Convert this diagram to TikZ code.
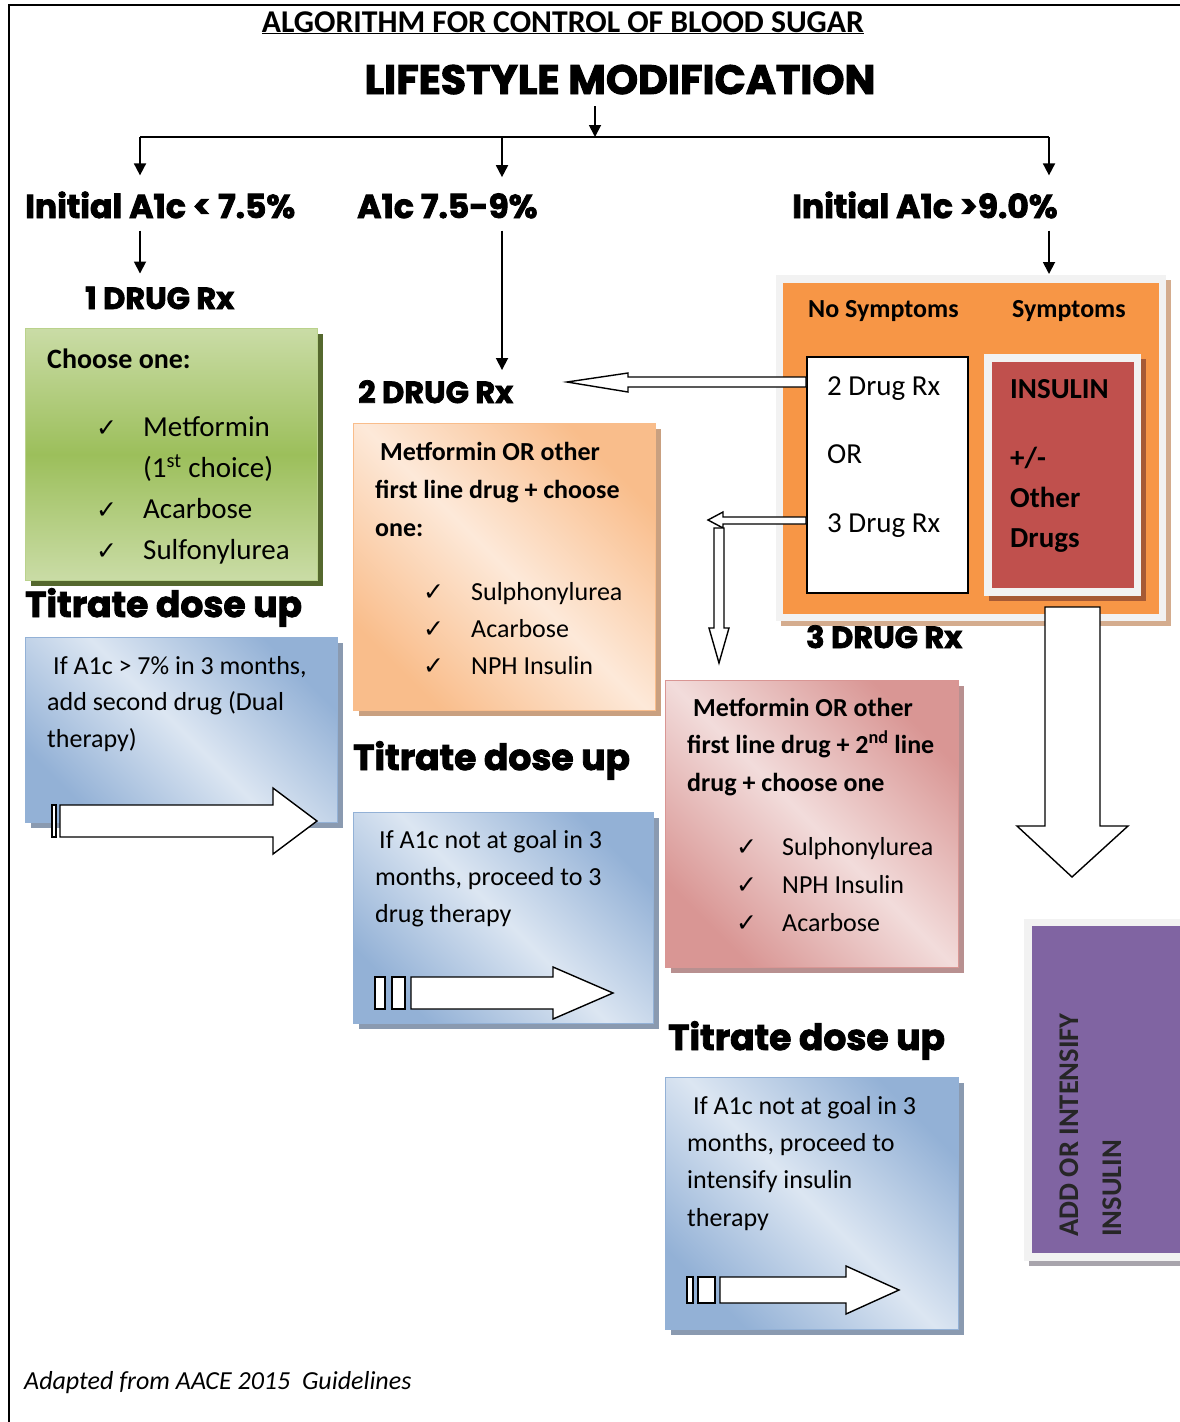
\documentclass[tikz,border=0pt]{standalone}
\usepackage{fontspec}
\setmainfont{Carlito}
\newfontfamily\headfont{Poppins}[BoldFeatures={FakeBold=2.4}]
\newfontfamily\symfont{DejaVu Sans}
\usetikzlibrary{positioning,shadows,arrows.meta}

\definecolor{greenTop}{HTML}{CADCA6}
\definecolor{greenMid}{HTML}{9CBF5B}
\definecolor{greenShadow}{HTML}{55682E}
\definecolor{blueLight}{HTML}{DCE6F2}
\definecolor{blueDark}{HTML}{93B1D6}
\definecolor{blueShadow}{HTML}{8A9AB0}
\definecolor{peachLight}{HTML}{FDE9D9}
\definecolor{peachDark}{HTML}{F9BD8B}
\definecolor{peachShadow}{HTML}{C9A080}
\definecolor{pinkLight}{HTML}{F2DCDB}
\definecolor{pinkDark}{HTML}{D99694}
\definecolor{pinkShadow}{HTML}{B89090}
\definecolor{orangeFill}{HTML}{F79646}
\definecolor{redFill}{HTML}{C0504D}
\definecolor{redShadow}{HTML}{A65A35}
\definecolor{purpleFill}{HTML}{8064A2}
\definecolor{frameGrey}{HTML}{F2F2F2}
\definecolor{tanShadow}{HTML}{D4AC8E}
\definecolor{greyShadow}{HTML}{A8A4AC}

\newcommand\chk{{\symfont\bfseries\fontsize{25}{25}\selectfont ✓}}

\tikzset{
  box/.style={anchor=north west, inner sep=0, line width=1pt},
  boxshadow/.style={drop shadow={shadow xshift=5pt, shadow yshift=-5pt, fill=#1, opacity=1}},
  greenbox/.style={box, boxshadow=greenShadow, draw=greenMid!70!white, top color=greenTop, bottom color=greenTop, middle color=greenMid},
  diagbox/.style={box, boxshadow=#1Shadow, draw=#1Dark, top color=#1Dark, bottom color=#1Dark, middle color=#1Light, shading angle=-45},
  framebox/.style={box, fill=frameGrey, boxshadow=#1},
  txt/.style={anchor=base west, inner sep=0, font=\fontsize{26}{28}\selectfont},
  bigtxt/.style={txt, font=\fontsize{29}{32}\selectfont},
  boldtxt/.style={txt, font=\bfseries\fontsize{26}{28}\selectfont},
  heading/.style={anchor=base west, inner sep=0, font=\headfont\bfseries\fontsize{36}{40}\selectfont},
  lowtxt/.style={heading, font=\headfont\bfseries\fontsize{33}{36}\selectfont},
  drugrx/.style={heading, font=\headfont\bfseries\fontsize{30.5}{32}\selectfont},
  arr/.style={-{Triangle[length=12pt,width=12pt]}, line width=1.8pt},
  hollow/.style={draw=black, fill=white, line width=1.4pt, line join=miter},
}

\begin{document}
\begin{tikzpicture}[x=1pt, y=-1pt]
\useasboundingbox (0,0) rectangle (1180,1422);
\fill[white] (0,0) rectangle (1180,1422);
\draw[line width=2pt] (9,1422) -- (9,5) -- (1180,5);

% top of the chart
\node[anchor=base, inner sep=0, font=\bfseries\fontsize{31.7}{33}\selectfont] (title) at (563,32) {\underline{ALGORITHM FOR CONTROL OF BLOOD SUGAR}};
\node[heading, anchor=base, font=\headfont\bfseries\fontsize{41}{44}\selectfont] (life) at (620,94) {LIFESTYLE MODIFICATION};

\coordinate (split) at (595,137);
\coordinate (brA) at (140,137);
\coordinate (brB) at (502,137);
\coordinate (brC) at (1049,137);
\draw[line width=1.8pt] (brA) -- (brC);
\draw[arr, shorten <=12pt] (life.south -| split) -- (split);

\node[lowtxt] (lowA) at (25,218) {Initial A1c < 7.5\%};
\node[lowtxt] (lowB) at (357,218) {A1c 7.5-9\%};
\node[lowtxt] (lowC) at (792,218) {Initial A1c >9.0\%};
\draw[arr] (brA) -- ([yshift=16pt]brA |- lowA.north);
\draw[arr] (brB) -- ([yshift=16pt]brB |- lowB.north);
\draw[arr] (brC) -- ([yshift=16pt]brC |- lowC.north);

% 1 drug column
\node[drugrx] (one) at (85,309) {1 DRUG Rx};
\draw[arr, shorten <=12pt, shorten >=13pt] (lowA.south -| brA) -- (one.north -| brA);

\node[greenbox, minimum width=292pt, minimum height=252pt] (oneBox) at (25,328) {};
\node[boldtxt, font=\bfseries\fontsize{28}{30}\selectfont] (oneHead) at (47,368) {Choose one:};
\node[txt] (oneC1) at (96,436) {\chk};
\node[bigtxt] (oneI1) at (143,436) {Metformin};
\node[bigtxt] (oneI1b) at (143,477) {(1\textsuperscript{st} choice)};
\node[txt] (oneC2) at (96,518) {\chk};
\node[bigtxt] (oneI2) at (143,518) {Acarbose};
\node[txt] (oneC3) at (96,559) {\chk};
\node[bigtxt] (oneI3) at (143,559) {Sulfonylurea};

\node[heading] (titA) at (25,617) {Titrate dose up};
\node[diagbox=blue, minimum width=312pt, minimum height=185pt] (tBoxA) at (25,637) {};
\node[txt] (tA1) at (53,674) {If A1c > 7\% in 3 months,};
\node[txt] (tA2) at (47,710) {add second drug (Dual};
\node[txt] (tA3) at (47,747) {therapy)};
\draw[hollow] (52,805) rectangle (56,837);
\draw[hollow] (60,805) -- (273,805) -- (273,788) -- (317,821) -- (273,854) -- (273,837) -- (60,837) -- cycle;

% 2 drug column
\node[drugrx] (two) at (358,403) {2 DRUG Rx};
\draw[arr, shorten <=12pt, shorten >=10pt] (lowB.south -| brB) -- (two.north -| brB);

\node[diagbox=peach, minimum width=302pt, minimum height=287pt] (twoBox) at (353,423) {};
\node[boldtxt] (twoH1) at (380,460) {Metformin OR other};
\node[boldtxt] (twoH2) at (375,498) {first line drug + choose};
\node[boldtxt] (twoH3) at (375,536) {one:};
\node[txt] (twoC1) at (423,600) {\chk};
\node[txt] (twoI1) at (471,600) {Sulphonylurea};
\node[txt] (twoC2) at (423,637) {\chk};
\node[txt] (twoI2) at (471,637) {Acarbose};
\node[txt] (twoC3) at (423,674) {\chk};
\node[txt] (twoI3) at (471,674) {NPH Insulin};

\node[heading] (titB) at (353,770) {Titrate dose up};
\node[diagbox=blue, minimum width=300pt, minimum height=211pt] (tBoxB) at (353,812) {};
\node[txt] (tB1) at (379,848) {If A1c not at goal in 3};
\node[txt] (tB2) at (375,885) {months, proceed to 3};
\node[txt] (tB3) at (375,922) {drug therapy};
\draw[hollow] (375,977) rectangle (385,1009);
\draw[hollow] (392,977) rectangle (405,1009);
\draw[hollow] (411,977) -- (553,977) -- (553,967) -- (613,993) -- (553,1019) -- (553,1009) -- (411,1009) -- cycle;

% >9.0 column
\node[framebox=tanShadow, minimum width=390pt, minimum height=346pt] (symFrame) at (775,274) {};
\draw[arr, shorten <=12pt] (lowC.south -| brC) -- (symFrame.north -| brC);
\node[box, fill=orangeFill, minimum width=376pt, minimum height=331pt] (symBox) at (782,282) {};
\node[boldtxt] (noSym) at (808,317) {No Symptoms};
\node[boldtxt] (sym) at (1012,317) {Symptoms};

\node[box, draw=black, line width=1.5pt, fill=white, minimum width=161pt, minimum height=236pt] (drugBox) at (806,356) {};
\node[txt, font=\fontsize{29}{30}\selectfont] (drug2) at (827,395) {2 Drug Rx};
\node[txt, font=\fontsize{29}{30}\selectfont] (drugOr) at (827,463) {OR};
\node[txt, font=\fontsize{29}{30}\selectfont] (drug3) at (827,532) {3 Drug Rx};

\node[framebox=redShadow, minimum width=157pt, minimum height=242pt] (insFrame) at (983,353) {};
\node[box, fill=redFill, minimum width=142pt, minimum height=226pt] (insBox) at (991,361) {};
\node[boldtxt, font=\bfseries\fontsize{29}{30}\selectfont] (ins1) at (1010,398) {INSULIN};
\node[boldtxt, font=\bfseries\fontsize{29}{30}\selectfont] (ins2) at (1010,467) {+/-};
\node[boldtxt, font=\bfseries\fontsize{29}{30}\selectfont] (ins3) at (1010,507) {Other};
\node[boldtxt, font=\bfseries\fontsize{29}{30}\selectfont] (ins4) at (1010,547) {Drugs};

% hollow arrows out of the no symptoms box
\draw[hollow] (806,377) -- (628,377) -- (628,373) -- (567,382) -- (628,392) -- (628,387) -- (806,387) -- cycle;
\draw[hollow] (806,517) -- (723,517) -- (723,512) -- (708,520) -- (723,528) -- (723,524) -- (806,524) -- cycle;
\draw[hollow] (714,528) -- (714,628) -- (709,628) -- (719,663) -- (729,628) -- (724,628) -- (724,528) -- cycle;
\draw[hollow] (1045,607) -- (1045,826) -- (1017,826) -- (1072,877) -- (1128,826) -- (1100,826) -- (1100,607) -- cycle;

% 3 drug column
\node[drugrx] (three) at (806,648) {3 DRUG Rx};
\node[diagbox=pink, minimum width=293pt, minimum height=287pt] (threeBox) at (665,680) {};
\node[boldtxt] (thrH1) at (693,716) {Metformin OR other};
\node[boldtxt] (thrH2) at (687,753) {first line drug + 2\textsuperscript{nd} line};
\node[boldtxt] (thrH3) at (687,791) {drug + choose one};
\node[txt] (thrC1) at (736,855) {\chk};
\node[txt] (thrI1) at (782,855) {Sulphonylurea};
\node[txt] (thrC2) at (736,893) {\chk};
\node[txt] (thrI2) at (782,893) {NPH Insulin};
\node[txt] (thrC3) at (736,931) {\chk};
\node[txt] (thrI3) at (782,931) {Acarbose};

\node[heading] (titC) at (668,1050) {Titrate dose up};
\node[diagbox=blue, minimum width=293pt, minimum height=252pt] (tBoxC) at (665,1077) {};
\node[txt] (tC1) at (693,1114) {If A1c not at goal in 3};
\node[txt] (tC2) at (687,1151) {months, proceed to};
\node[txt] (tC3) at (687,1188) {intensify insulin};
\node[txt] (tC4) at (687,1226) {therapy};
\draw[hollow] (687,1277) rectangle (693,1303);
\draw[hollow] (698,1277) rectangle (715,1303);
\draw[hollow] (720,1277) -- (846,1277) -- (846,1266) -- (899,1290) -- (846,1314) -- (846,1303) -- (720,1303) -- cycle;

% add or intensify insulin
\node[framebox=greyShadow, minimum width=170pt, minimum height=342pt] (addFrame) at (1023,918) {};
\node[box, fill=purpleFill, minimum width=160pt, minimum height=327pt] (addBox) at (1031,925) {};
\node[boldtxt, rotate=90, font=\bfseries\fontsize{28.5}{30}\selectfont, text=black!85] (add1) at (1078,1237) {ADD OR INTENSIFY};
\node[boldtxt, rotate=90, font=\bfseries\fontsize{28.5}{30}\selectfont, text=black!85] (add2) at (1121,1237) {INSULIN};

\node[txt, font=\itshape\fontsize{26}{28}\selectfont] (src) at (24,1389) {Adapted from AACE 2015\ \ Guidelines};
\end{tikzpicture}
\end{document}
